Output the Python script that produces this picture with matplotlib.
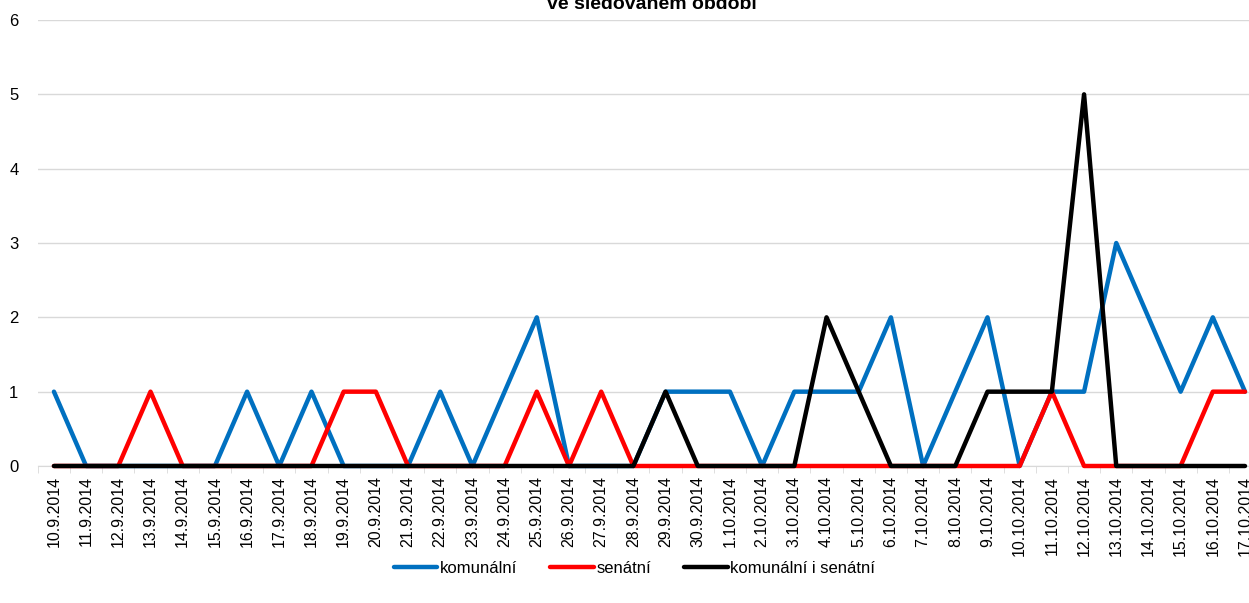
import matplotlib.pyplot as plt
from matplotlib.ticker import FixedLocator

# dates in the observed period
dates = ['10.9.2014', '11.9.2014', '12.9.2014', '13.9.2014', '14.9.2014', '15.9.2014',
         '16.9.2014', '17.9.2014', '18.9.2014', '19.9.2014', '20.9.2014', '21.9.2014',
         '22.9.2014', '23.9.2014', '24.9.2014', '25.9.2014', '26.9.2014', '27.9.2014',
         '28.9.2014', '29.9.2014', '30.9.2014', '1.10.2014', '2.10.2014', '3.10.2014',
         '4.10.2014', '5.10.2014', '6.10.2014', '7.10.2014', '8.10.2014', '9.10.2014',
         '10.10.2014', '11.10.2014', '12.10.2014', '13.10.2014', '14.10.2014',
         '15.10.2014', '16.10.2014', '17.10.2014']

komunalni = [1, 0, 0, 0, 0, 0, 1, 0, 1, 0, 0, 0, 1, 0, 1, 2, 0, 0, 0, 1,
             1, 1, 0, 1, 1, 1, 2, 0, 1, 2, 0, 1, 1, 3, 2, 1, 2, 1]
senatni = [0, 0, 0, 1, 0, 0, 0, 0, 0, 1, 1, 0, 0, 0, 0, 1, 0, 1, 0, 0,
           0, 0, 0, 0, 0, 0, 0, 0, 0, 0, 0, 1, 0, 0, 0, 0, 1, 1]
oboje = [0, 0, 0, 0, 0, 0, 0, 0, 0, 0, 0, 0, 0, 0, 0, 0, 0, 0, 0, 1,
         0, 0, 0, 0, 2, 1, 0, 0, 0, 1, 1, 1, 5, 0, 0, 0, 0, 0]

plt.rcParams['font.family'] = ['Liberation Sans', 'DejaVu Sans']

fig = plt.figure(figsize=(12.49, 6.03), dpi=100)
ax = fig.add_axes([0.0303, 0.2272, 0.9794, 0.7396])

x = list(range(len(dates)))
kw = dict(linewidth=3.2, solid_joinstyle='round', solid_capstyle='round', clip_on=False)
ax.plot(x, komunalni, color='#0070C0', label='komunální', zorder=3, **kw)
ax.plot(x, senatni, color='#FF0000', label='senátní', zorder=4, **kw)
ax.plot(x, oboje, color='#000000', label='komunální i senátní', zorder=5, **kw)

ax.set_xlim(-0.5, len(dates) - 0.5)
ax.set_ylim(0, 6)
ax.set_yticks(range(7))
ax.set_xticks(x)
ax.set_xticklabels(dates, rotation=90, fontsize=11.5)
ax.xaxis.set_minor_locator(FixedLocator([i - 0.5 for i in range(len(dates) + 1)]))
ax.tick_params(axis='x', which='major', length=0, pad=7)
ax.tick_params(axis='x', which='minor', length=5, color='#d9d9d9', direction='out')
ax.tick_params(axis='y', length=0, pad=14, labelsize=12)

ax.grid(axis='y', color='#d9d9d9', linewidth=1)
ax.set_axisbelow(True)
for s in ['top', 'right', 'left']:
    ax.spines[s].set_visible(False)
ax.spines['bottom'].set_color('#d9d9d9')

fig.text(0.522, 1 - 9 / 603, 've sledovaném období', ha='center', va='baseline',
         fontsize=14, fontweight='bold')

fig.legend(loc='center', bbox_to_anchor=(0.508, 0.058), ncol=3, frameon=False,
           fontsize=12, handlelength=2.6, handletextpad=0.15, columnspacing=2.0)

fig.savefig('out.png', dpi=100)
